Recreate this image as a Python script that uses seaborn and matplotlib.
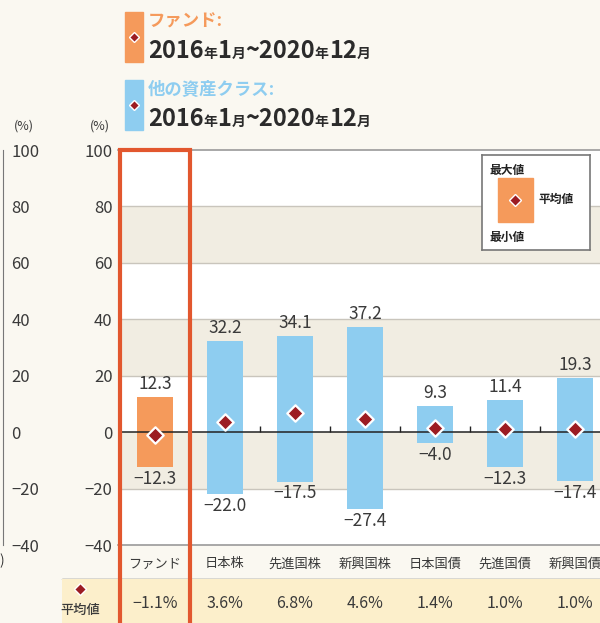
import numpy as np
import matplotlib
matplotlib.use("Agg")
import matplotlib.pyplot as plt
from matplotlib.patches import Rectangle
from matplotlib.lines import Line2D
import seaborn as sns

categories = ["ファンド", "日本株", "先進国株", "新興国株", "日本国債", "先進国債", "新興国債"]
max_vals = [12.3, 32.2, 34.1, 37.2, 9.3, 11.4, 19.3]
min_vals = [-12.3, -22.0, -17.5, -27.4, -4.0, -12.3, -17.4]
mean_vals = [-1.1, 3.6, 6.8, 4.6, 1.4, 1.0, 1.0]
yticks = [-40, -20, 0, 20, 40, 60, 80, 100]

ORANGE = "#f59a5b"
BLUE = "#8ecdf0"
DIAMOND = "#9c1c22"
RED = "#e2572e"
BG = "#faf8f1"
BAND = "#f1ede2"
TEXT = "#3a3a3a"

sns.set_style("white")
plt.rcParams["font.family"] = ["Noto Sans CJK JP", "DejaVu Sans"]

fig = plt.figure(figsize=(6, 6.23), dpi=100, facecolor=BG)
W, H = 600, 623

def fx(px):
    return px / W

def fy(py):
    return 1 - py / H

ax = fig.add_axes([fx(118), fy(545), fx(600 - 118), (545 - 150) / H])
ax.set_facecolor("white")

palette = [ORANGE] + [BLUE] * (len(categories) - 1)
for vals in (max_vals, min_vals):
    sns.barplot(x=categories, y=vals, hue=categories, palette=palette,
                legend=False, width=0.52, errorbar=None, saturation=1,
                linewidth=0, edgecolor="none", ax=ax, zorder=2)
sns.scatterplot(x=np.arange(len(categories)), y=mean_vals, marker="D", s=70,
                color=DIAMOND, edgecolor="white", linewidth=1.6, ax=ax, zorder=5)

# background bands and grid
for lo in (60, 20, -20):
    ax.axhspan(lo, lo + 20, color=BAND, zorder=0, lw=0)
for yv in (-20, 20, 40, 60, 80):
    ax.axhline(yv, color="#c9c5bc", lw=1, zorder=1)
ax.axhline(0, color="#222222", lw=1.1, zorder=4)
ax.vlines(np.arange(1.5, len(categories) - 1), 0, 2.2, color="#222222", lw=1, zorder=4)

ax.set_ylim(-40, 100)
ax.set_xlim(-0.5286, 6.357)
ax.set_yticks(yticks)
ax.set_yticklabels([str(v).replace("-", "−") for v in yticks])
ax.tick_params(axis="y", length=0, pad=4, labelsize=12, labelcolor=TEXT)
ax.tick_params(axis="x", length=0, pad=9, labelsize=9.5, labelcolor=TEXT)
ax.set_xlabel("")
for s in ("left", "right"):
    ax.spines[s].set_visible(False)
for s in ("top", "bottom"):
    ax.spines[s].set_color("#9a9a9a")
    ax.spines[s].set_linewidth(1.2)

# value labels
for i, (hi, lo) in enumerate(zip(max_vals, min_vals)):
    ax.annotate(f"{hi:.1f}", (i, hi), xytext=(0, 3), textcoords="offset points",
                ha="center", va="bottom", fontsize=12.5, color=TEXT)
    ax.annotate(f"{lo:.1f}".replace("-", "−"), (i, lo), xytext=(0, -2),
                textcoords="offset points", ha="center", va="top",
                fontsize=12.5, color=TEXT)

# highlight box around the fund column
ax.add_patch(Rectangle((-0.5, -0.25), 1.0, 1.25, transform=ax.get_xaxis_transform(),
                       fill=False, edgecolor=RED, lw=3, clip_on=False, zorder=10))

# mean row at the bottom
fig.patches.append(Rectangle((fx(62), 0), 1, (H - 579) / H, transform=fig.transFigure,
                             facecolor="#fcefcb", edgecolor="none", zorder=-1))
fig.lines.append(Line2D([fx(62), 1], [fy(579), fy(579)], transform=fig.transFigure,
                        color="#555555", lw=1, zorder=-1))
tr = ax.get_xaxis_transform()
row_y = (fy(604) - fy(545)) / ((545 - 150) / H)
for i, m in enumerate(mean_vals):
    ax.text(i, row_y, f"{m:.1f}%".replace("-", "−"), transform=tr, ha="center",
            va="center", fontsize=11.5, color=TEXT, clip_on=False)
fig.text(fx(80), fy(610), "平均値", ha="center", va="center", fontsize=9.5,
         fontweight="medium", color=TEXT)
fig.lines.append(Line2D([fx(80)], [fy(589)], transform=fig.transFigure, marker="D",
                        markersize=6, color=DIAMOND, markeredgecolor="white", lw=0))

# partial axis from neighbouring chart on the left
ax2 = fig.add_axes([-0.1, fy(545), 0.1 + fx(3), (545 - 150) / H])
ax2.set_facecolor("none")
ax2.set_ylim(-40, 100)
ax2.set_xticks([])
ax2.yaxis.tick_right()
ax2.set_yticks(yticks)
ax2.set_yticklabels([str(v).replace("-", "−") for v in yticks])
ax2.tick_params(axis="y", length=0, pad=6, labelsize=12, labelcolor=TEXT)
for s in ("left", "top", "bottom"):
    ax2.spines[s].set_visible(False)
ax2.spines["right"].set_color("#777777")
fig.text(fx(2), fy(561), ")", ha="center", va="center", fontsize=10, color=TEXT)
fig.text(fx(24), fy(126), "(%)", ha="center", va="center", fontsize=9, color=TEXT)
fig.text(fx(100), fy(126), "(%)", ha="center", va="center", fontsize=9, color=TEXT)

# chart key (top-right)
kax = fig.add_axes([fx(482), fy(250), fx(108), 95 / H])
kax.set_xlim(0, 1)
kax.set_ylim(0, 1)
kax.set_xticks([])
kax.set_yticks([])
for s in kax.spines.values():
    s.set_color("#777777")
    s.set_linewidth(1.2)
kax.add_patch(Rectangle((0.15, 0.29), 0.32, 0.47, color=ORANGE))
kax.plot([0.31], [0.53], marker="D", markersize=6, color=DIAMOND,
         markeredgecolor="white", lw=0)
kax.text(0.07, 0.84, "最大値", fontsize=8.5, fontweight="bold", color="#222222", va="center")
kax.text(0.07, 0.13, "最小値", fontsize=8.5, fontweight="bold", color="#222222", va="center")
kax.text(0.52, 0.53, "平均値", fontsize=8.5, fontweight="bold", color="#222222", va="center")

# header legend
renderer = fig.canvas.get_renderer()

def draw_pieces(x, y, pieces):
    for txt, size in pieces:
        t = fig.text(x, y, txt, fontsize=size, fontweight="bold", color="#2b2b2b",
                     va="baseline", ha="left")
        bb = t.get_window_extent(renderer=renderer)
        x += bb.width / W

date_pieces = [("2016", 17), ("年", 10), ("1", 17), ("月", 10), ("~2020", 17),
               ("年", 10), ("12", 17), ("月", 10)]
for top, color, label in ((12, ORANGE, "ファンド:"), (80, BLUE, "他の資産クラス:")):
    fig.patches.append(Rectangle((fx(125), fy(top + 50)), fx(18), 50 / H,
                                 transform=fig.transFigure, color=color))
    fig.lines.append(Line2D([fx(134)], [fy(top + 25)], transform=fig.transFigure,
                            marker="D", markersize=5, color=DIAMOND,
                            markeredgecolor="white", lw=0))
    fig.text(fx(148), fy(top + 10), label, fontsize=12.5, fontweight="bold",
             color=color, va="center", ha="left")
    draw_pieces(fx(148), fy(top + 46), date_pieces)

fig.savefig("out.png", dpi=100, facecolor=BG)
